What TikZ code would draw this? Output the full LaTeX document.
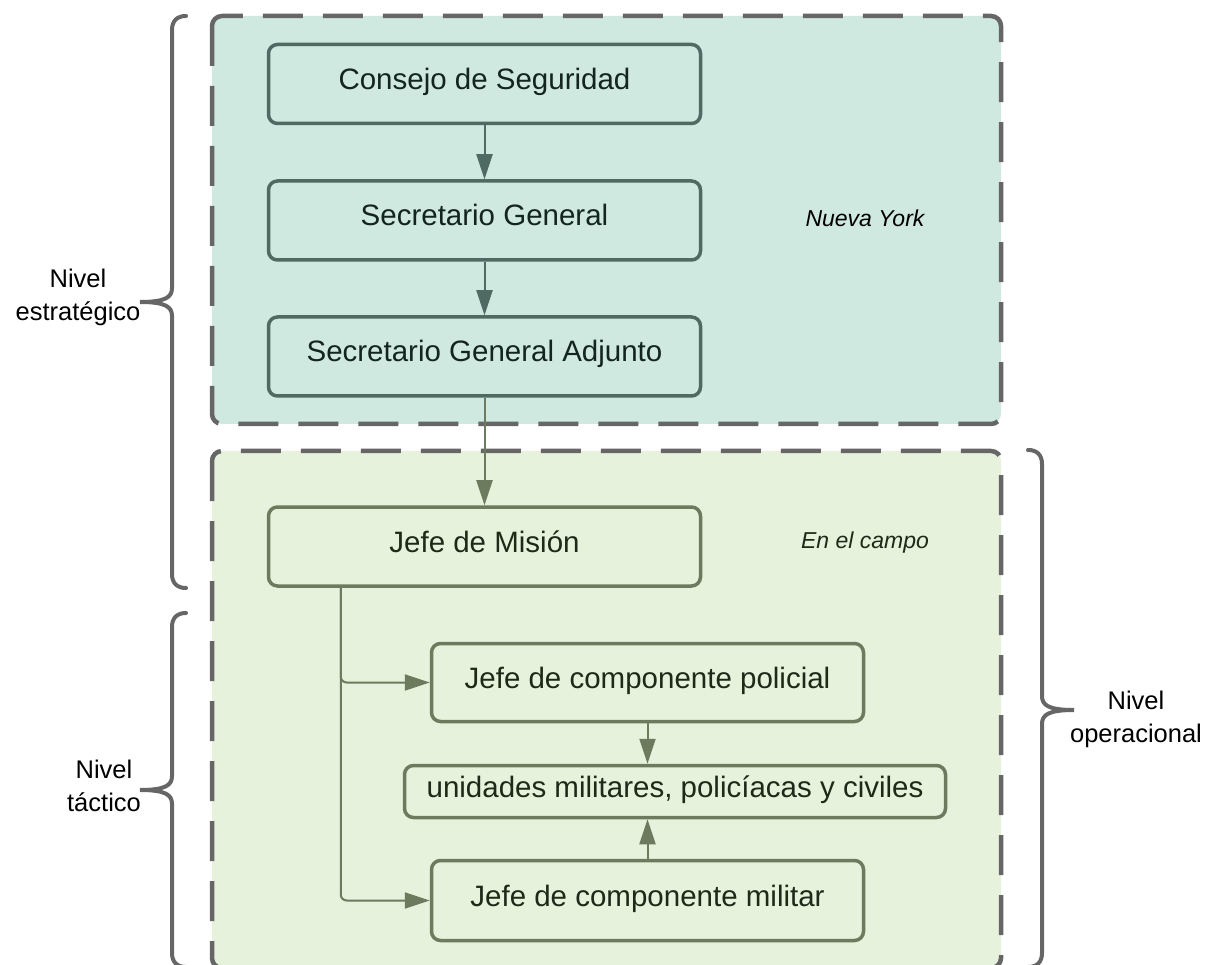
\documentclass[tikz,border=0pt]{standalone}
\usepackage{fontspec}
\setmainfont{Liberation Sans}
\usetikzlibrary{arrows.meta,calc}
\definecolor{tealfill}{HTML}{CFE8E0}
\definecolor{tealline}{HTML}{4E6A62}
\definecolor{tealtext}{HTML}{14241F}
\definecolor{greenfill}{HTML}{E6F2DC}
\definecolor{greenline}{HTML}{6C7A5E}
\definecolor{greentext}{HTML}{1E2A18}
\definecolor{regionline}{HTML}{666666}
\begin{document}
\begin{tikzpicture}[x=1pt,y=-1pt,
 region/.style={draw=regionline, line width=4.5pt, dash pattern=on 40pt off 20pt, rounded corners=10pt},
 box/.style={draw, rectangle, rounded corners=9pt, line width=3.5pt, minimum width=432pt, minimum height=79pt, font=\fontsize{29.5}{34}\selectfont, text height=21pt, text depth=10pt, inner sep=0pt},
 tealbox/.style={box, draw=tealline, fill=tealfill, text=tealtext},
 greenbox/.style={box, draw=greenline, fill=greenfill, text=greentext},
 conn/.style={line width=2pt, -{Triangle[length=25pt,width=16pt]}},
 brace/.style={draw=regionline, line width=4pt, line cap=round},
 level/.style={font=\fontsize{25.5}{33}\selectfont, align=center, text=black},
 place/.style={font=\fontsize{23}{28}\selectfont\itshape}
]
\useasboundingbox (0,0) rectangle (1208,965);

% regions
\draw[region, fill=tealfill] (212,16) rectangle (1001,424);
\draw[region, fill=greenfill] (212,451) rectangle (1001,968);

% boxes
\node[tealbox] (cs)  at (484.5,84)   {Consejo de Seguridad};
\node[tealbox] (sg)  at (484.5,220.5) {Secretario General};
\node[tealbox] (sga) at (484.5,356.5) {Secretario General Adjunto};
\node[greenbox] (jm) at (484.5,546.5) {Jefe de Misión};
\node[greenbox, minimum height=78pt] (pol) at (647.5,682.5) {Jefe de componente policial};
\node[greenbox, minimum width=541pt, minimum height=52pt] (uni) at (675,791.5) {unidades militares, policíacas y civiles};
\node[greenbox, minimum height=80pt] (mil) at (647.5,900.5) {Jefe de componente militar};

% place labels
\node[place, text=black] (ny) at (865,218) {Nueva York};
\node[place, text=greentext] (campo) at (865,543) {En el campo};

% connectors
\draw[conn, tealline] (cs.south) -- (sg.north);
\draw[conn, tealline] (sg.south) -- (sga.north);
\draw[conn, greenline] (sga.south) -- (jm.north);
\coordinate (jmout) at ([xshift=74pt]jm.south west);
\draw[conn, greenline, rounded corners=6pt] (jmout) |- (pol.west);
\draw[conn, greenline, rounded corners=6pt] (jmout) |- (mil.west);
\draw[conn, greenline] (pol.south) -- (pol.south |- uni.north);
\draw[conn, greenline] (mil.north) -- (mil.north |- uni.south);

% braces
\draw[brace] (186,16) .. controls (177,16) and (172,21) .. (172,30) -- (172,288)
  .. controls (172,297) and (166,302) .. (140,302)
  .. controls (166,302) and (172,307) .. (172,316) -- (172,574)
  .. controls (172,583) and (177,588) .. (186,588);
\draw[brace] (186,613) .. controls (177,613) and (172,618) .. (172,627) -- (172,776)
  .. controls (172,785) and (166,790) .. (140,790)
  .. controls (166,790) and (172,795) .. (172,804) -- (172,953)
  .. controls (172,962) and (177,967) .. (186,967);
\draw[brace] (1028,450) .. controls (1037,450) and (1042,455) .. (1042,464) -- (1042,696)
  .. controls (1042,705) and (1048,710) .. (1074,710)
  .. controls (1048,710) and (1042,715) .. (1042,724) -- (1042,953)
  .. controls (1042,962) and (1037,967) .. (1028,967);

% level labels
\node[level] (lest) at (78,297) {Nivel\\estratégico};
\node[level] (ltac) at (104,786) {Nivel\\táctico};
\node[level] (lop) at (1136,719) {Nivel\\operacional};
\end{tikzpicture}
\end{document}
